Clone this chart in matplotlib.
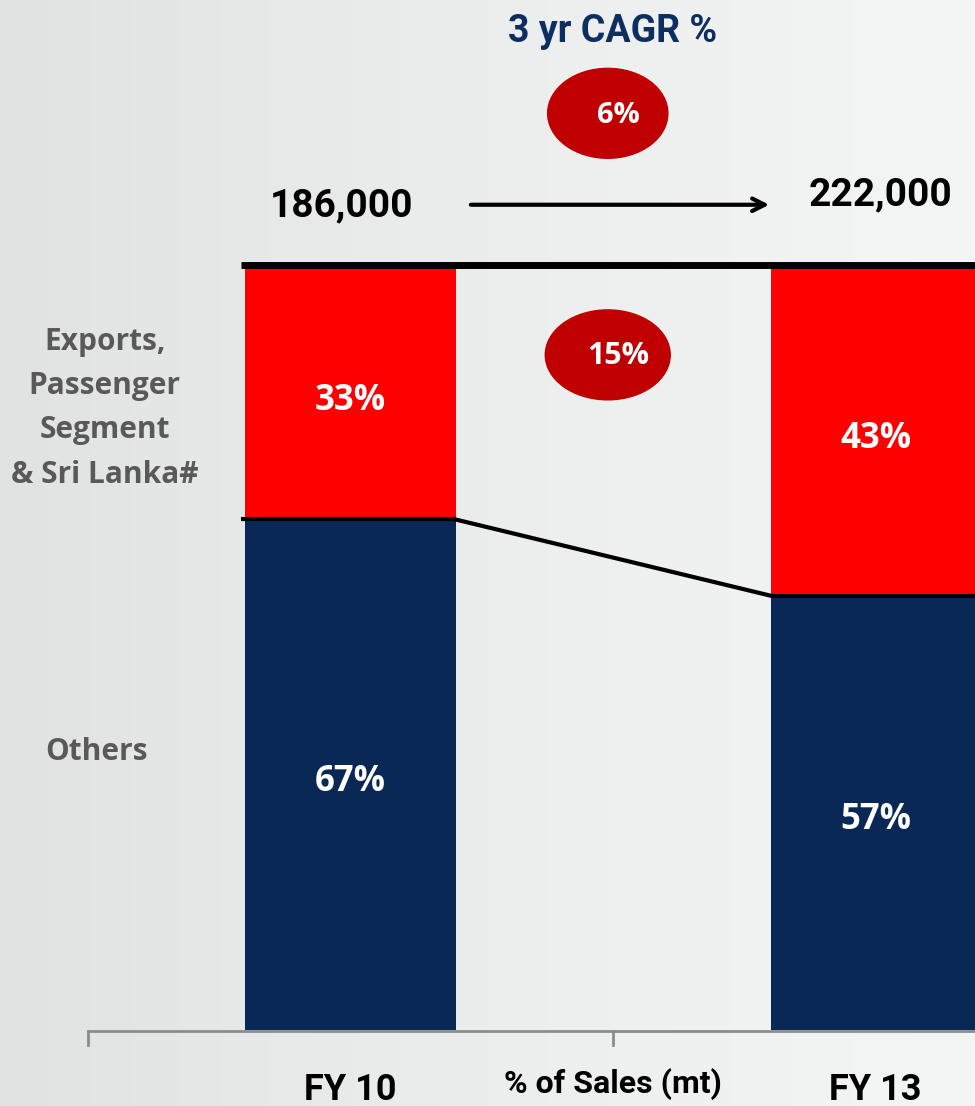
import numpy as np
import matplotlib
matplotlib.use("Agg")
import matplotlib.pyplot as plt
from matplotlib.patches import Ellipse
from matplotlib.colors import LinearSegmentedColormap

# data
years = ["FY 10", "FY 13"]
others = [67, 57]
exports = [33, 43]
totals = ["186,000", "222,000"]
cagr_total = "6%"
cagr_exports = "15%"
segment_names = ["Exports,\nPassenger\nSegment\n& Sri Lanka#", "Others"]

RED = "#ff0000"
NAVY = "#0a2856"
DARKRED = "#c00000"
GREY = "#595959"
NARROW = ["Roboto", "DejaVu Sans"]
WIDE = ["Open Sans", "DejaVu Sans"]

fig = plt.figure(figsize=(9.75, 11.06), dpi=100)
ax = fig.add_axes([0, 0, 1, 1])
X0, X1, Y0, Y1 = -0.6676, 1.1895, -9.97, 135.17
ax.set_xlim(X0, X1)
ax.set_ylim(Y0, Y1)
ax.axis("off")

# light grey background, darker on the left
grad = np.linspace(0, 1, 256).reshape(1, -1)
bg = LinearSegmentedColormap.from_list("bg", ["#e1e3e3", "#eceded", "#f4f5f5"])
ax.imshow(grad, cmap=bg, aspect="auto", extent=(X0, X1, Y0, Y1), zorder=0)

x = np.arange(len(years))
w = 0.4
ax.bar(x, others, w, color=NAVY, zorder=2)
ax.bar(x, exports, w, bottom=others, color=RED, zorder=2)

# lines on top of the stacks
ax.plot([x[0] - w / 2 - 0.008, X1], [100.45, 100.45], color="black", lw=5, zorder=3,
        solid_capstyle="butt")
ax.plot([x[0] - w / 2 - 0.008, x[0] + w / 2], [others[0], others[0]], color="black", lw=3,
        zorder=3, solid_capstyle="butt")
ax.plot([x[0] + w / 2, x[1] - w / 2], [others[0], others[1]], color="black", lw=3, zorder=3)
ax.plot([x[1] - w / 2, X1], [others[1], others[1]], color="black", lw=3, zorder=3,
        solid_capstyle="butt")

# segment labels
for i in x:
    ax.text(i, others[i] / 2 - 1.0, f"{others[i]}%", color="white", fontsize=25,
            fontweight="bold", family=WIDE, ha="center", va="center", zorder=4)
    ax.text(i, others[i] + exports[i] / 2 - 0.9, f"{exports[i]}%", color="white", fontsize=25,
            fontweight="bold", family=WIDE, ha="center", va="center", zorder=4)

# category axis
ax.plot([-0.5, X1], [-0.15, -0.15], color="#8c8c8c", lw=2, zorder=1)
for t in [-0.5, 0.5]:
    ax.plot([t, t], [-0.15, -1.9], color="#8c8c8c", lw=2, zorder=1)
for i in x:
    ax.text(i, -7.9, years[i], fontsize=26, fontweight="bold", family=NARROW,
            ha="center", va="center", color="black")
ax.text(0.5, -7.1, "% of Sales (mt)", fontsize=23, fontweight="bold", family=NARROW,
        ha="center", va="center", color="black")

# left segment names
ax.text(-0.468, 81.6, segment_names[0], fontsize=21.5, fontweight="bold", family=WIDE,
        color=GREY, ha="center", va="center", linespacing=1.62)
ax.text(-0.483, 36.5, segment_names[1], fontsize=21.5, fontweight="bold", family=WIDE,
        color=GREY, ha="center", va="center")

# totals and arrow
ax.text(-0.018, 108.2, totals[0], fontsize=28, fontweight="bold", family=NARROW,
        ha="center", va="center", color="black")
ax.text(1.01, 109.6, totals[1], fontsize=28, fontweight="bold", family=NARROW,
        ha="center", va="center", color="black")
ax.annotate("", xy=(0.803, 108.3), xytext=(0.224, 108.3),
            arrowprops=dict(arrowstyle="->,head_length=0.9,head_width=0.45", lw=3, color="black"))

# CAGR
ax.text(0.5, 131.1, "3 yr CAGR %", fontsize=27, fontweight="bold", family=NARROW,
        color="#0d2f5f", ha="center", va="center")
ax.add_patch(Ellipse((0.49, 120.3), 0.229, 11.8, color=DARKRED, zorder=3))
ax.text(0.51, 120.0, cagr_total, fontsize=21, fontweight="bold", family=WIDE,
        color="white", ha="center", va="center", zorder=4)
ax.add_patch(Ellipse((0.49, 88.6), 0.238, 11.8, color=DARKRED, zorder=3))
ax.text(0.51, 88.4, cagr_exports, fontsize=22, fontweight="bold", family=WIDE,
        color="white", ha="center", va="center", zorder=4)

fig.savefig("out.png", dpi=100)
